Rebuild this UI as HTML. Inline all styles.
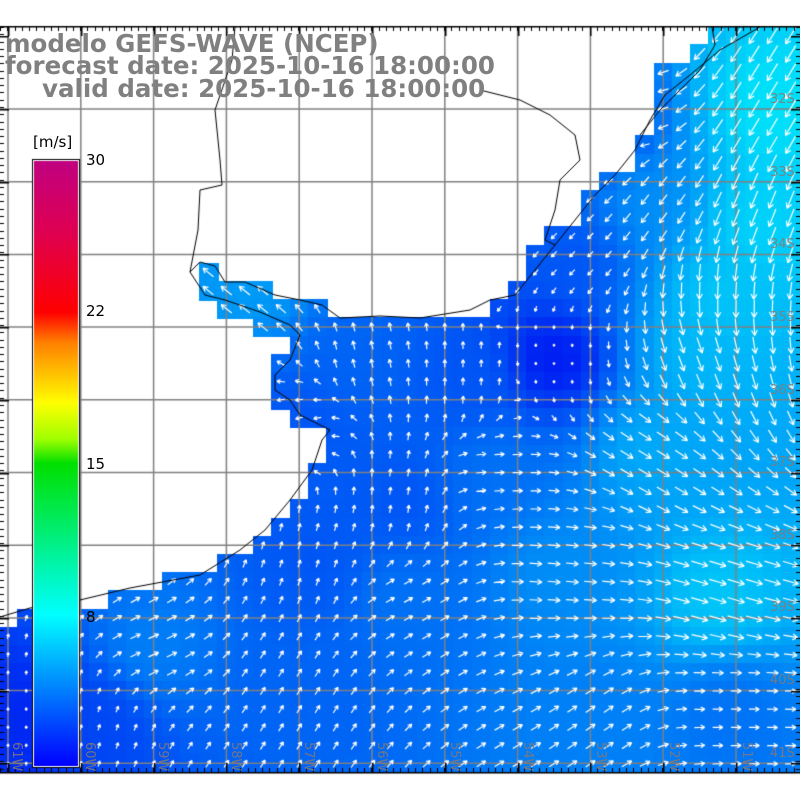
<!DOCTYPE html>
<html><head><meta charset="utf-8"><style>
html,body{margin:0;padding:0;background:#fff;width:800px;height:800px;overflow:hidden}
#c{position:absolute;left:0;top:0}
.t{position:absolute;font-family:"DejaVu Sans","Liberation Sans",sans-serif;font-weight:bold;font-size:24.5px;color:#808080;white-space:nowrap;line-height:25px}
.lab{position:absolute;font-family:"DejaVu Sans","Liberation Sans",sans-serif;font-size:15px;color:#000}
.lat{position:absolute;font-family:"DejaVu Sans",sans-serif;font-size:13px;color:#8a7a70;opacity:.85}
.lon{position:absolute;font-family:"DejaVu Sans",sans-serif;font-size:13px;color:#8a7a70;opacity:.85;transform:rotate(90deg);transform-origin:0 0}
</style></head><body>
<canvas id="c" width="800" height="800"></canvas>
<div class="t" style="left:5px;top:31px">modelo GEFS-WAVE (NCEP)</div>
<div class="t" style="left:5px;top:53px">forecast date: 2025-10-16 18:00:00</div>
<div class="t" style="left:42px;top:76px">valid date: 2025-10-16 18:00:00</div>
<div class="lab" style="left:33px;top:133px">[m/s]</div>
<div class="lab" style="left:86px;top:151px">30</div>
<div class="lab" style="left:86px;top:302px">22</div>
<div class="lab" style="left:86px;top:455px">15</div>
<div class="lab" style="left:86px;top:608px">8</div>
<div class="lat" style="left:770px;top:92px">32S</div>
<div class="lat" style="left:770px;top:165px">33S</div>
<div class="lat" style="left:770px;top:237px">34S</div>
<div class="lat" style="left:770px;top:310px">35S</div>
<div class="lat" style="left:770px;top:383px">36S</div>
<div class="lat" style="left:770px;top:455px">37S</div>
<div class="lat" style="left:770px;top:528px">38S</div>
<div class="lat" style="left:770px;top:600px">39S</div>
<div class="lat" style="left:770px;top:673px">40S</div>
<div class="lat" style="left:770px;top:746px">41S</div>
<div class="lon" style="left:24px;top:742px">61W</div>
<div class="lon" style="left:97px;top:742px">60W</div>
<div class="lon" style="left:170px;top:742px">59W</div>
<div class="lon" style="left:243px;top:742px">58W</div>
<div class="lon" style="left:316px;top:742px">57W</div>
<div class="lon" style="left:389px;top:742px">56W</div>
<div class="lon" style="left:462px;top:742px">55W</div>
<div class="lon" style="left:535px;top:742px">54W</div>
<div class="lon" style="left:608px;top:742px">53W</div>
<div class="lon" style="left:681px;top:742px">52W</div>
<div class="lon" style="left:754px;top:742px">51W</div>
<script>
const c=document.getElementById('c'),g=c.getContext('2d');
const TOP=27,BOT=772;
const sea=[[0,627],[20,612],[80,605],[130,592],[200,573],[235,555],[260,535],[290,505],[310,480],[330,455],[330,425],[300,420],[278,405],[275,375],[290,345],[295,318],[370,318],[492,318],[492,300],[510,282],[527,263],[546,244],[564,226],[582,208],[600,190],[618,172],[637,160],[640,135],[655,120],[655,100],[660,63],[690,63],[690,45],[705,45],[705,27],[800,27],[800,772],[0,772]];
const est=[[198,262],[220,262],[222,282],[255,288],[300,300],[330,310],[340,320],[295,322],[290,345],[270,330],[225,318],[220,300],[198,298]];
function inPoly(x,y,p){let s=false;for(let i=0,j=p.length-1;i<p.length;j=i++){const[xi,yi]=p[i],[xj,yj]=p[j];if((yi>y)!=(yj>y)&&x<(xj-xi)*(y-yi)/(yj-yi)+xi)s=!s;}return s;}
const A=[[700,350,0.4,1,6],[770,110,-0.6,1,7.5],[760,220,-0.4,1,7],[650,200,-0.6,0.8,4.5],[720,300,-0.05,1,6.5],[600,130,-0.8,-0.3,2],[580,260,-0.6,0.6,2.5],
[555,360,0,1,0.3],[470,380,0,-1,2.5],[400,500,0.1,-1,2.5],[350,360,-0.2,-1,3],[650,450,1,0.6,5.5],[500,470,1,0,3.5],[720,600,1,0.3,6.5],[560,570,1,0.1,4.5],
[400,600,1,-0.5,3.5],[150,650,1,-0.4,4],[100,720,0.3,-1,2],[300,700,0.6,-1,3],[600,720,1,-0.7,4],[30,720,0,-1,0.8],[730,710,1,0,3.5],[250,290,-1,-0.8,5],[300,420,-1,0.3,2.5],[320,560,0.3,-1,2.5]];
function field(x,y){let su=0,sv=0,ss=0,w=0;for(const a of A){const d2=(x-a[0])**2+(y-a[1])**2+900;const wi=1/Math.pow(d2,1.6);const n=Math.hypot(a[2],a[3]);su+=wi*a[2]/n;sv+=wi*a[3]/n;ss+=wi*a[4];w+=wi;}su/=w;sv/=w;ss/=w;const n=Math.hypot(su,sv)||1;return[su/n,sv/n,ss];}
function col(s){s=Math.max(0,Math.min(8,s));const t=s/8;return `rgb(0,${Math.round(15+t*225)},${Math.round(242+8*t)})`;}
const d=18.2;
g.fillStyle='#fff';g.fillRect(0,0,800,800);
const cells=[];
for(let j=-2;j<45;j++){const cy=327+(j-16)*d;for(let i=0;i<46;i++){const cx=8+i*d;if(cy<TOP-9||cy>BOT+9)continue;if(inPoly(cx,cy,sea)||inPoly(cx,cy,est)){const f=field(cx,cy);cells.push([cx,cy,f]);g.fillStyle=col(f[2]);g.fillRect(Math.floor(cx-d/2),Math.floor(cy-d/2),Math.ceil(d)+1,Math.ceil(d)+1);}}}
g.fillStyle='#fff';g.fillRect(0,0,800,TOP);g.fillRect(0,BOT,800,28);
g.strokeStyle='#808080';g.lineWidth=1.5;
for(let k=0;k<11;k++){const x=8+k*72.8;g.beginPath();g.moveTo(x,TOP);g.lineTo(x,BOT);g.stroke();}
for(let k=0;k<10;k++){const y=109+k*72.7;g.beginPath();g.moveTo(0,y);g.lineTo(800,y);g.stroke();}
g.strokeStyle='#fff';g.lineWidth=1.2;
for(const[cx,cy,f]of cells){if(cy<TOP+4||cy>BOT-4)continue;const L=Math.min(22,1+f[2]*2.6);const ux=f[0],uy=f[1];const x0=cx-ux*L/2,y0=cy-uy*L/2,x1=cx+ux*L/2,y1=cy+uy*L/2;g.beginPath();g.moveTo(x0,y0);g.lineTo(x1,y1);const h=Math.min(6,1.5+L*0.3);const a=Math.atan2(uy,ux);g.moveTo(x1,y1);g.lineTo(x1-h*Math.cos(a-0.5),y1-h*Math.sin(a-0.5));g.moveTo(x1,y1);g.lineTo(x1-h*Math.cos(a+0.5),y1-h*Math.sin(a+0.5));g.stroke();}
g.strokeStyle='#000';g.lineWidth=1;
const coast=[[0,617],[30,608],[80,600],[130,588],[200,575],[240,550],[265,530],[290,500],[312,470],[322,440],[330,430],[300,415],[290,400],[275,390],[275,375],[290,360],[300,335],[290,325],[260,312],[225,300],[205,295],[190,272],[200,262],[215,266],[225,282],[245,282],[275,295],[300,300],[322,305],[340,318],[380,316],[420,318],[470,310],[490,300],[515,295],[535,270],[555,245],[575,220],[595,195],[615,175],[635,150],[650,120],[665,95],[690,75],[720,50],[760,27]];
g.beginPath();coast.forEach((p,i)=>i?g.lineTo(p[0],p[1]):g.moveTo(p[0],p[1]));g.stroke();
const river=[[235,27],[232,60],[215,110],[220,160],[222,185],[200,190],[198,230],[190,272]];
g.beginPath();river.forEach((p,i)=>i?g.lineTo(p[0],p[1]):g.moveTo(p[0],p[1]));g.stroke();
const br=[[480,90],[520,100],[550,115],[575,135],[580,160],[560,180],[555,210],[545,240],[555,245]];
g.beginPath();br.forEach((p,i)=>i?g.lineTo(p[0],p[1]):g.moveTo(p[0],p[1]));g.stroke();
g.beginPath();g.moveTo(640,135);g.lineTo(660,110);g.lineTo(680,90);g.lineTo(700,70);g.lineTo(715,45);g.lineTo(712,27);g.stroke();
g.fillStyle='#000';g.fillRect(0,TOP-1,800,1.5);g.fillRect(0,BOT,800,1.5);
for(let x=0;x<800;x+=7.28){g.fillRect(Math.round(x),TOP,1,4);g.fillRect(Math.round(x),BOT-4,1,4);}
for(let y=TOP;y<BOT;y+=7.27){g.fillRect(0,Math.round(y),4,1);g.fillRect(796,Math.round(y),4,1);}
for(let k=0;k<11;k++){const x=8+k*72.8;g.fillRect(Math.round(x),TOP,1.5,9);g.fillRect(Math.round(x),BOT-9,1.5,9);}
for(let k=-1;k<10;k++){const y=109+k*72.7;g.fillRect(0,Math.round(y),9,1.5);g.fillRect(791,Math.round(y),9,1.5);}
g.fillStyle='#000';g.fillRect(32,159,48,609);g.fillStyle='#fff';g.fillRect(33,160,46,607);
const gr=g.createLinearGradient(0,766,0,161);
gr.addColorStop(0,'#0000ff');gr.addColorStop(0.25,'#00ffff');gr.addColorStop(0.50,'#00e000');gr.addColorStop(0.54,'#a0ff00');gr.addColorStop(0.60,'#ffff00');gr.addColorStop(0.70,'#ff8000');gr.addColorStop(0.75,'#ff0000');gr.addColorStop(0.88,'#e00050');gr.addColorStop(1,'#c00080');
g.fillStyle=gr;g.fillRect(34,161,44,605);
</script>
</body></html>
